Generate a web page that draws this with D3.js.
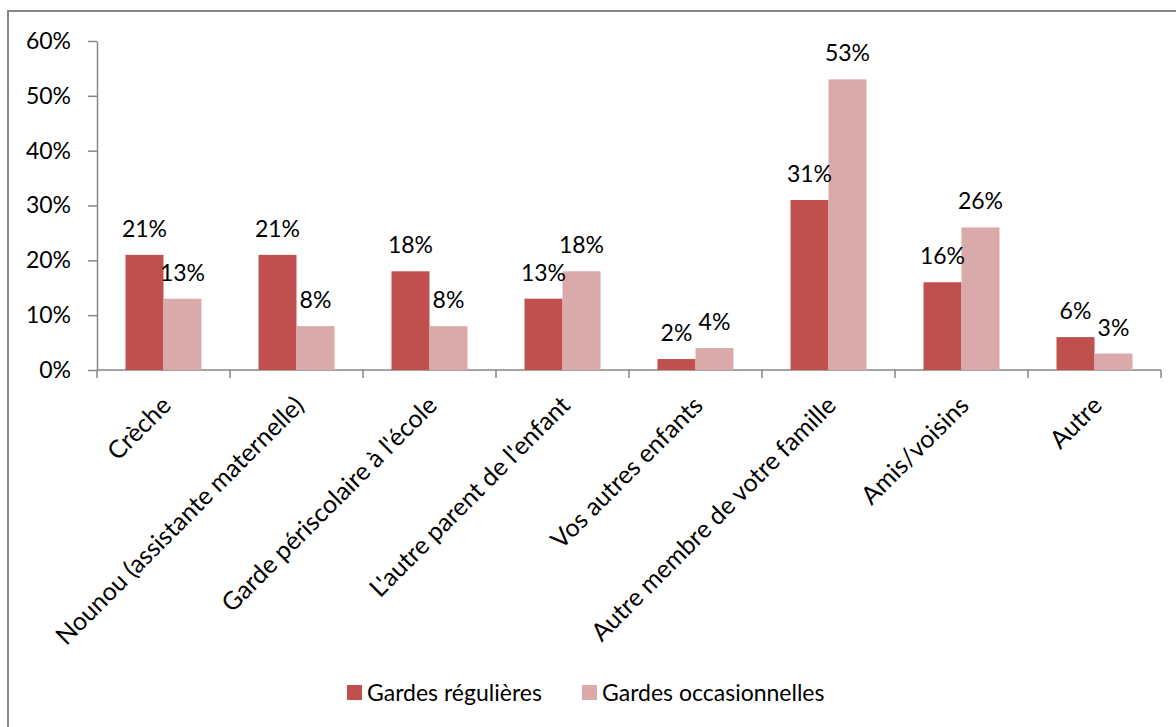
<!DOCTYPE html>
<html><head><meta charset="utf-8">
<script src="https://cdn.jsdelivr.net/npm/d3@7"></script>
<style>
html,body{margin:0;padding:0;background:#fff;}
text{font-family:Lato,"Liberation Sans",sans-serif;fill:#000;}
</style></head>
<body><svg id="c" width="1176" height="727"></svg>
<script>
const categories = ["Crèche","Nounou (assistante maternelle)","Garde périscolaire à l'école","L'autre parent de l'enfant","Vos autres enfants","Autre membre de votre famille","Amis/voisins","Autre"];
const seriesNames = ["Gardes régulières","Gardes occasionnelles"];
const regulieres = [21,21,18,13,2,31,16,6];
const occasionnelles = [13,8,8,18,4,53,26,3];
const yTicks = [0,10,20,30,40,50,60];
const colors = ["#C0504D","#D9AAA9"];

(function(){
const svg = d3.select("#c");
const FS = 23, FSC = 25;
svg.append("rect").attr("x",8).attr("y",11).attr("width",1200).attr("height",800)
  .attr("fill","none").attr("stroke","#878787").attr("stroke-width",2);

const pL=97, pR=1161, pT=41, pB=370;
const x0 = d3.scaleBand().domain(categories).range([pL,pR]).paddingInner(0).paddingOuter(0);
const x1 = d3.scaleBand().domain(seriesNames).range([0,x0.bandwidth()]).paddingInner(0).paddingOuter(0.75);
const y = d3.scaleLinear().domain([0,60]).range([pB,pT]);

const ya = svg.append("g").attr("transform",`translate(${pL},0)`)
  .call(d3.axisLeft(y).tickValues(yTicks).tickFormat(d=>d+"%").tickSize(9).tickSizeOuter(0));
ya.select(".domain").attr("stroke","#868686").attr("stroke-width",1.5);
ya.selectAll(".tick line").attr("stroke","#868686").attr("stroke-width",1.5);
ya.selectAll(".tick text").attr("font-size",FS).attr("x",-26).attr("font-family","Lato");

svg.append("line").attr("x1",pL).attr("x2",pR).attr("y1",pB).attr("y2",pB)
  .attr("stroke","#868686").attr("stroke-width",1.5);
const bounds = categories.map(c=>x0(c)).concat([pR]);
svg.selectAll(".xt").data(bounds).enter().append("line")
  .attr("x1",d=>d).attr("x2",d=>d).attr("y1",pB).attr("y2",pB+8)
  .attr("stroke","#868686").attr("stroke-width",1.5);

const data = categories.map((c,i)=>({c, vals:[regulieres[i],occasionnelles[i]]}));
const g = svg.selectAll(".grp").data(data).enter().append("g")
  .attr("transform",d=>`translate(${x0(d.c)},0)`);
g.selectAll("rect").data(d=>d.vals.map((v,k)=>({v,k}))).enter().append("rect")
  .attr("x",d=>x1(seriesNames[d.k])).attr("width",x1.bandwidth())
  .attr("y",d=>y(d.v)).attr("height",d=>y(0)-y(d.v))
  .attr("fill",d=>colors[d.k]);
g.selectAll("text").data(d=>d.vals.map((v,k)=>({v,k}))).enter().append("text")
  .attr("x",d=>x1(seriesNames[d.k])+x1.bandwidth()/2).attr("y",d=>y(d.v)-18)
  .attr("text-anchor","middle").attr("font-size",FS).text(d=>d.v+"%");

svg.selectAll(".cl").data(categories).enter().append("text")
  .attr("transform",c=>`translate(${x0(c)+x0.bandwidth()/2+9},${pB+37}) rotate(-45)`)
  .attr("text-anchor","end").attr("font-size",FSC).text(c=>c);

const leg = [{n:seriesNames[0],x:347},{n:seriesNames[1],x:582}];
leg.forEach((l,i)=>{
  svg.append("rect").attr("x",l.x).attr("y",685).attr("width",15).attr("height",15).attr("fill",colors[i]);
  svg.append("text").attr("x",l.x+20).attr("y",701).attr("font-size",FS).text(l.n);
});
})();
</script></body></html>
